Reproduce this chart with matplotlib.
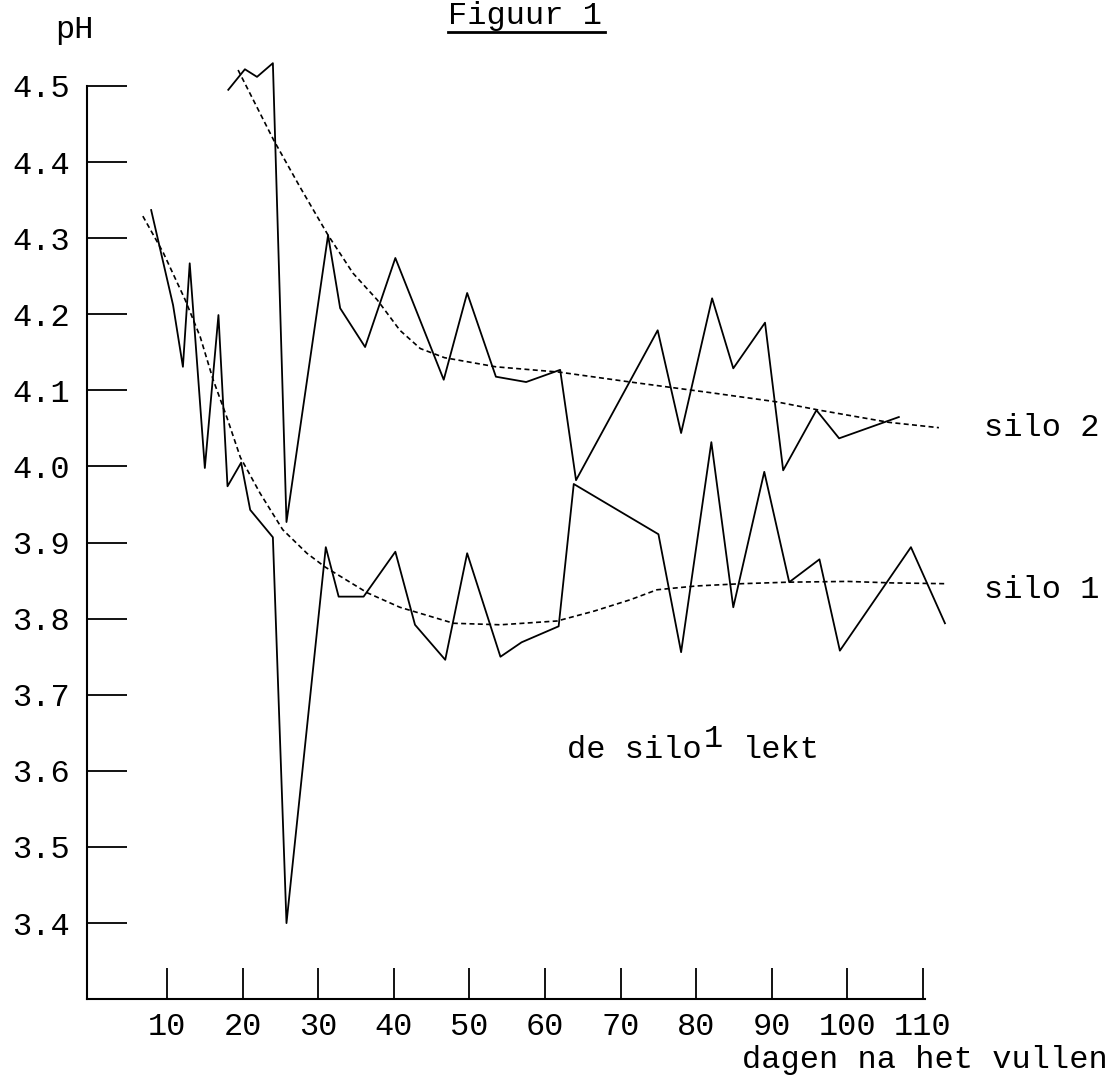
import matplotlib
matplotlib.use("Agg")
import matplotlib.pyplot as plt
from matplotlib.lines import Line2D

# pH-waarden van de twee silo's
silo1_dagen = [7.9, 10.8, 12.1, 13.0, 15.0, 16.8, 18.0, 19.8, 21.0, 24.0, 25.8,
               31.0, 32.7, 36.0, 40.2, 42.8, 46.8, 49.7, 54.1, 56.9, 61.8, 63.8,
               75.0, 78.0, 82.0, 84.9, 89.0, 92.3, 96.3, 99.0, 108.4, 112.9]
silo1_ph = [4.337, 4.212, 4.131, 4.267, 3.998, 4.199, 3.974, 4.005, 3.943, 3.907, 3.400,
            3.894, 3.829, 3.829, 3.888, 3.792, 3.746, 3.886, 3.750, 3.769, 3.790, 3.977,
            3.911, 3.756, 4.032, 3.815, 3.993, 3.848, 3.878, 3.758, 3.894, 3.794]

silo2_dagen = [18.1, 20.3, 21.9, 24.0, 25.8, 31.3, 32.9, 36.2, 40.2, 46.6, 49.7, 53.5,
               57.5, 62.0, 64.1, 74.9, 78.0, 82.1, 84.9, 89.1, 91.5, 95.9, 98.9, 106.8]
silo2_ph = [4.495, 4.522, 4.512, 4.530, 3.927, 4.304, 4.208, 4.157, 4.274, 4.114, 4.228, 4.118,
            4.111, 4.127, 3.982, 4.179, 4.044, 4.221, 4.129, 4.189, 3.995, 4.074, 4.037, 4.065]

# getrokken trendlijnen (gestippeld)
trend1_dagen = [6.8, 9.5, 12.4, 14.4, 16.1, 17.9, 19.7, 22.3, 25.3, 28.5, 30.9, 36.5, 40.8,
                47.9, 54.1, 61.6, 66.5, 71.3, 74.8, 80.0, 86.0, 92.2, 100.0, 106.0, 113.0]
trend1_ph = [4.329, 4.281, 4.219, 4.170, 4.114, 4.065, 4.012, 3.965, 3.917, 3.886, 3.868, 3.834, 3.815,
             3.794, 3.792, 3.797, 3.810, 3.825, 3.838, 3.843, 3.846, 3.848, 3.849, 3.847, 3.846]

trend2_dagen = [19.4, 24.1, 27.6, 31.3, 34.6, 37.8, 40.8, 43.5, 46.7, 53.5, 61.9, 71.3,
                81.9, 90.6, 96.3, 105.5, 112.1]
trend2_ph = [4.521, 4.429, 4.367, 4.304, 4.254, 4.219, 4.179, 4.155, 4.143, 4.131, 4.124, 4.111,
             4.097, 4.085, 4.074, 4.058, 4.051]

x_ticks = [10, 20, 30, 40, 50, 60, 70, 80, 90, 100, 110]
y_ticks = [3.4, 3.5, 3.6, 3.7, 3.8, 3.9, 4.0, 4.1, 4.2, 4.3, 4.4, 4.5]

W, H = 1119, 1077
FONT = "Liberation Mono"
FS = 23


def px(x, y):
    # pixelpositie -> figuurfractie
    return x / W, 1 - y / H


fig = plt.figure(figsize=(W / 100, H / 100), dpi=100)
ax = fig.add_axes([86.9 / W, 1 - 999.2 / H, 838.4 / W, 913.2 / H])
ax.set_xlim(-0.6, 110.3)
ax.set_ylim(3.30, 4.50)

for s in ["top", "right"]:
    ax.spines[s].set_visible(False)
for s in ["left", "bottom"]:
    ax.spines[s].set_linewidth(1.5)

ax.plot(silo1_dagen, silo1_ph, color="black", lw=1.3, clip_on=False)
ax.plot(silo2_dagen, silo2_ph, color="black", lw=1.3, clip_on=False)
ax.plot(trend1_dagen, trend1_ph, color="black", lw=1.2, ls=(0, (3, 2)), clip_on=False)
ax.plot(trend2_dagen, trend2_ph, color="black", lw=1.2, ls=(0, (3, 2)), clip_on=False)

ax.set_xticks(x_ticks)
ax.set_xticklabels([str(t) for t in x_ticks], fontfamily=FONT, fontsize=FS)
ax.set_yticks(y_ticks)
ax.set_yticklabels([f"{t:.1f}" for t in y_ticks], fontfamily=FONT, fontsize=FS)
ax.tick_params(axis="y", direction="in", length=29, width=1.3, pad=12)
ax.tick_params(axis="x", direction="in", length=22, width=1.3, pad=9)

# teksten
fig.text(*px(55, 38), "pH", fontfamily=FONT, fontsize=FS, va="baseline", ha="left")
fig.text(*px(448, 24), "Figuur 1", fontfamily=FONT, fontsize=FS, va="baseline", ha="left")
x0, y0 = px(448, 32)
x1, _ = px(605, 32)
fig.add_artist(Line2D([x0, x1], [y0, y0], color="black", lw=2))

fig.text(*px(984, 436), "silo 2", fontfamily=FONT, fontsize=FS, va="baseline", ha="left")
fig.text(*px(984, 598), "silo 1", fontfamily=FONT, fontsize=FS, va="baseline", ha="left")

fig.text(*px(567, 758), "de silo", fontfamily=FONT, fontsize=FS, va="baseline", ha="left")
fig.text(*px(704, 747), "1", fontfamily=FONT, fontsize=FS, va="baseline", ha="left")
fig.text(*px(743, 758), "lekt", fontfamily=FONT, fontsize=FS, va="baseline", ha="left")

fig.text(*px(742, 1068), "dagen na het vullen", fontfamily=FONT, fontsize=FS,
         va="baseline", ha="left")

fig.savefig("out.png", dpi=100, facecolor="white")
